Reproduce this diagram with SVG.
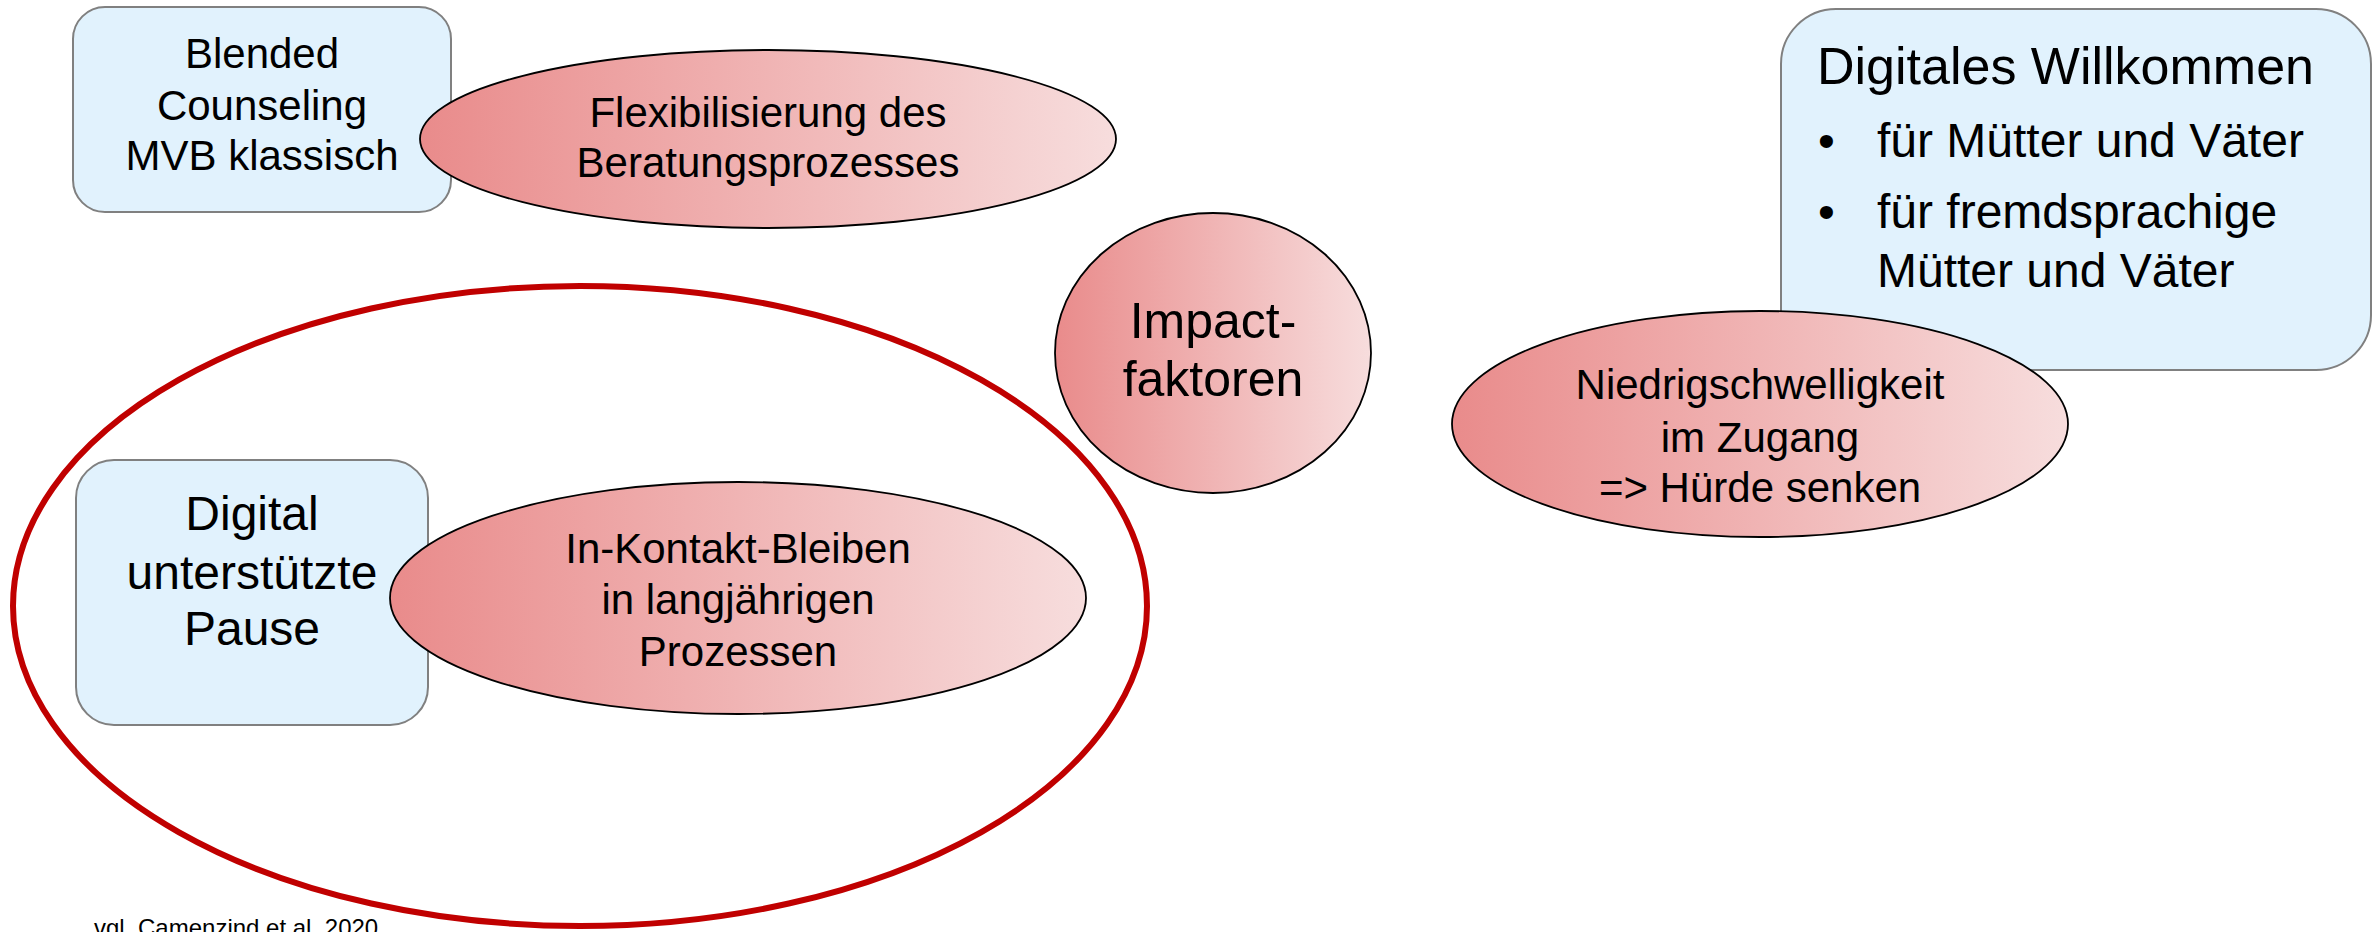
<svg xmlns="http://www.w3.org/2000/svg" width="2379" height="932" viewBox="0 0 2379 932">
  <defs>
    <linearGradient id="pinkFade" x1="0" y1="0" x2="1" y2="0">
      <stop offset="0" stop-color="#e98b8b"/>
      <stop offset="1" stop-color="#f7dddd"/>
    </linearGradient>
    <style>
      .box { fill: #e1f2fd; stroke: #808080; stroke-width: 2; }
      .oval { fill: url(#pinkFade); stroke: #000; stroke-width: 1.8; }
      .lbl { font-family: "Liberation Sans", Arial, sans-serif; fill: #000; }
      .mid { text-anchor: middle; }
      .f42 { font-size: 42px; }
      .f48 { font-size: 48px; }
      .f50 { font-size: 50px; }
      .frame { fill: none; stroke: #c00000; stroke-width: 6; }
    </style>
  </defs>
  <rect width="2379" height="932" fill="#ffffff"/>

  <!-- grouping frame around the pause cluster -->
  <g id="frame-pause">
    <ellipse class="frame" cx="580" cy="606" rx="567" ry="320"/>
  </g>

  <g id="node-blended">
    <rect class="box" x="73" y="7" width="378" height="205" rx="32"/>
    <text class="lbl f42 mid" x="262"><tspan x="262" y="68">Blended</tspan><tspan x="262" y="120">Counseling</tspan><tspan x="262" y="170">MVB klassisch</tspan></text>
  </g>

  <g id="node-flex">
    <ellipse class="oval" cx="768" cy="139" rx="348" ry="89"/>
    <text class="lbl f42 mid"><tspan x="768" y="127">Flexibilisierung des</tspan><tspan x="768" y="177">Beratungsprozesses</tspan></text>
  </g>

  <g id="node-impact">
    <ellipse class="oval" cx="1213" cy="353" rx="158" ry="140"/>
    <text class="lbl f50 mid"><tspan x="1213" y="338">Impact-</tspan><tspan x="1213" y="396">faktoren</tspan></text>
  </g>

  <g id="node-willkommen">
    <rect class="box" x="1781" y="9" width="590" height="361" rx="55"/>
    <text class="lbl" font-size="52" x="1817" y="84">Digitales Willkommen</text>
    <text class="lbl f48" x="1818" y="157">•</text>
    <text class="lbl f48" x="1877" y="157">für Mütter und Väter</text>
    <text class="lbl f48" x="1818" y="228">•</text>
    <text class="lbl f48"><tspan x="1877" y="228">für fremdsprachige</tspan><tspan x="1877" y="287">Mütter und Väter</tspan></text>
  </g>

  <g id="node-niedrig">
    <ellipse class="oval" cx="1760" cy="424" rx="308" ry="113"/>
    <text class="lbl f42 mid"><tspan x="1760" y="399">Niedrigschwelligkeit</tspan><tspan x="1760" y="452">im Zugang</tspan><tspan x="1760" y="502">=&gt; Hürde senken</tspan></text>
  </g>

  <g id="node-digital">
    <rect class="box" x="76" y="460" width="352" height="265" rx="38"/>
    <text class="lbl f48 mid"><tspan x="252" y="530">Digital</tspan><tspan x="252" y="589">unterstützte</tspan><tspan x="252" y="645">Pause</tspan></text>
  </g>

  <g id="node-kontakt">
    <ellipse class="oval" cx="738" cy="598" rx="348" ry="116"/>
    <text class="lbl f42 mid"><tspan x="738" y="563">In-Kontakt-Bleiben</tspan><tspan x="738" y="614">in langjährigen</tspan><tspan x="738" y="666">Prozessen</tspan></text>
  </g>

  <g id="connectors"></g>

  <text id="source-note" class="lbl" font-size="24" x="94" y="936">vgl. Camenzind et al. 2020</text>
</svg>
